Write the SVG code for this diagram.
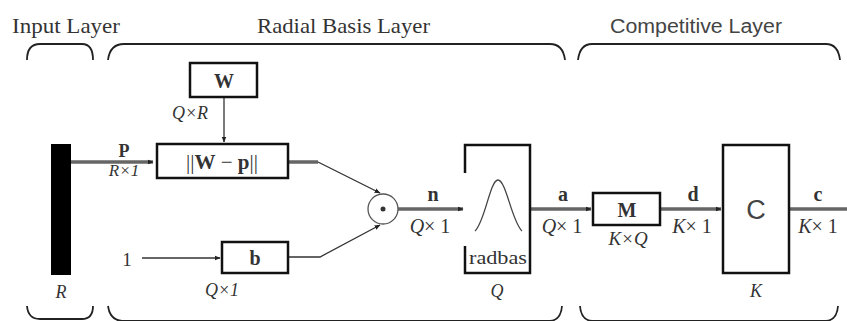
<svg xmlns="http://www.w3.org/2000/svg" width="847" height="321" viewBox="0 0 847 321">
<style>
.t{font-family:"Liberation Serif",serif;fill:#333}
.s{font-family:"Liberation Sans",sans-serif;fill:#444}
.b{font-weight:bold}
.i{font-style:italic}
.box{fill:#fff;stroke:#111;stroke-width:2.5}
.thick{fill:none;stroke:#666;stroke-width:3.5}
.thin{fill:none;stroke:#333;stroke-width:1.3}
.brace{fill:none;stroke:#222;stroke-width:1.8}
</style>
<defs>
<marker id="ah" viewBox="0 0 10 10" refX="9" refY="5" markerWidth="6" markerHeight="6" orient="auto" markerUnits="userSpaceOnUse">
<path d="M0,1 L10,5 L0,9 Z" fill="#222"/>
</marker>
</defs>
<rect width="847" height="321" fill="#fff"/>

<g id="labels">
<text class="t" x="12" y="33" font-size="21" textLength="108" lengthAdjust="spacingAndGlyphs">Input Layer</text>
<text class="t" x="257" y="33" font-size="21" textLength="173" lengthAdjust="spacingAndGlyphs">Radial Basis Layer</text>
<text class="s" x="610" y="33" font-size="20" textLength="172" lengthAdjust="spacingAndGlyphs">Competitive Layer</text>
</g>

<g id="braces">
<path class="brace" d="M27,60 Q27,44 40,44 H82 Q93,44 93,60"/>
<path class="brace" d="M108,60 Q110,44 124,44 H550 Q563,44 565,60"/>
<path class="brace" d="M578,60 Q580,44 592,44 H826 Q838,44 840,60"/>
<path class="brace" d="M27,306 Q28,319 40,319 H82 Q93,319 93,306"/>
<path class="brace" d="M108,306 Q110,320 122,321 H550 Q561,320 562,306"/>
<path class="brace" d="M580,306 Q581,320 592,321 H826 Q837,320 838,306"/>
</g>

<g id="connectors">
<path class="thick" d="M71,162 H153" marker-end="url(#ah)"/>
<path class="thin" d="M224,97 V142" marker-end="url(#ah)"/>
<path class="thick" d="M288,162 H318" stroke-width="3"/>
<path class="thin" d="M318,162 L380,193" marker-end="url(#ah)"/>
<path class="thin" d="M142,258 H220" marker-end="url(#ah)"/>
<path class="thin" d="M288,257 H320 L380,225" marker-end="url(#ah)"/>
<path class="thick" d="M398,209 H463" marker-end="url(#ah)"/>
<path class="thick" d="M530,209 H591" marker-end="url(#ah)"/>
<path class="thick" d="M660,209 H721" marker-end="url(#ah)"/>
<path class="thick" d="M789,209 H847"/>
</g>

<g id="input">
<rect x="51" y="144" width="20" height="131" fill="#000"/>
<text class="t i" x="61" y="298" font-size="18" text-anchor="middle">R</text>
</g>

<g id="W">
<rect class="box" x="190" y="63" width="67" height="34"/>
<text class="t b" x="224" y="88" font-size="20" text-anchor="middle">W</text>
<text class="t i" x="190" y="119" font-size="18" text-anchor="middle">Q×R</text>
</g>

<g id="dist">
<rect class="box" x="157" y="144" width="131" height="34"/>
<text class="t" x="222" y="169" font-size="21" text-anchor="middle">||<tspan font-weight="bold">W</tspan> − <tspan font-weight="bold">p</tspan>||</text>
<text class="t b" x="124" y="157" font-size="18" text-anchor="middle">P</text>
<text class="t i" x="124" y="176" font-size="17" text-anchor="middle">R×1</text>
</g>

<g id="one">
<text class="t" x="127" y="266" font-size="19" text-anchor="middle">1</text>
</g>

<g id="b">
<rect class="box" x="222" y="242" width="66" height="31"/>
<text class="t b" x="255" y="265" font-size="20" text-anchor="middle">b</text>
<text class="t i" x="222" y="296" font-size="18" text-anchor="middle">Q×1</text>
</g>

<g id="mult">
<circle cx="383" cy="209" r="15" fill="#fff" stroke="#555" stroke-width="1.3"/>
<circle cx="383" cy="209" r="2.5" fill="#333"/>
<text class="t b" x="433" y="201" font-size="20" text-anchor="middle">n</text>
<text class="t" x="430" y="233" font-size="20" text-anchor="middle"><tspan font-style="italic">Q</tspan>× 1</text>
</g>

<g id="radbas">
<path d="M465,173 V145 H530 V273 H465 V246" fill="none" stroke="#111" stroke-width="2.5"/>
<path d="M475,231 C485,222 490,180 498,180 C506,180 512,222 522,231" fill="none" stroke="#444" stroke-width="1.3"/>
<text class="t" x="469" y="264" font-size="19" textLength="58" lengthAdjust="spacingAndGlyphs">radbas</text>
<text class="t i" x="497" y="297" font-size="18" text-anchor="middle">Q</text>
<text class="t b" x="563" y="201" font-size="20" text-anchor="middle">a</text>
<text class="t" x="562" y="233" font-size="20" text-anchor="middle"><tspan font-style="italic">Q</tspan>× 1</text>
</g>

<g id="M">
<rect class="box" x="593" y="193" width="67" height="32"/>
<text class="t b" x="627" y="217" font-size="20" text-anchor="middle">M</text>
<text class="t i" x="628" y="245" font-size="19" text-anchor="middle">K×Q</text>
<text class="t b" x="693" y="201" font-size="20" text-anchor="middle">d</text>
<text class="t" x="692" y="233" font-size="20" text-anchor="middle"><tspan font-style="italic">K</tspan>× 1</text>
</g>

<g id="C">
<rect class="box" x="723" y="145" width="66" height="128"/>
<text class="s" x="756" y="219" font-size="27" text-anchor="middle">C</text>
<text class="t i" x="756" y="297" font-size="18" text-anchor="middle">K</text>
<text class="t b" x="818" y="201" font-size="20" text-anchor="middle">c</text>
<text class="t" x="818" y="233" font-size="20" text-anchor="middle"><tspan font-style="italic">K</tspan>× 1</text>
</g>
</svg>
